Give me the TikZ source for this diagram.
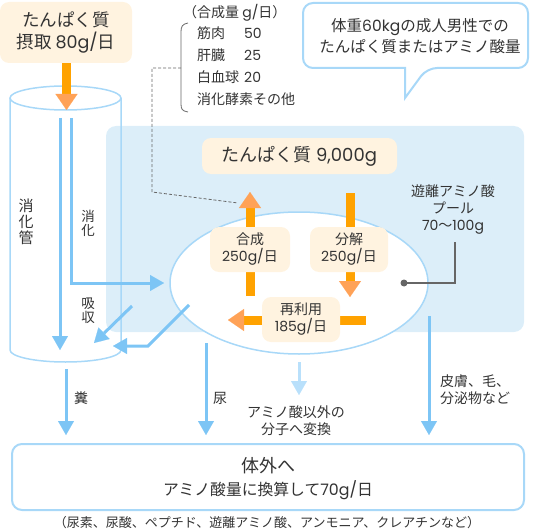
\documentclass[tikz,border=0pt]{standalone}
\usepackage{fontspec}
\setmainfont{Noto Sans CJK JP}
\newfontfamily\latfont{Poppins}
\newcommand{\latn}[1]{{\latfont #1}}
\usetikzlibrary{arrows.meta,shapes.geometric}
\definecolor{cream}{HTML}{FFF3E0}
\definecolor{poolbg}{HTML}{DCEEF9}
\definecolor{bluearr}{HTML}{7DC5F5}
\definecolor{blueline}{HTML}{A8D8F8}
\definecolor{paleblue}{HTML}{B9E0FB}
\definecolor{orshaft}{HTML}{FFA200}
\definecolor{orhead}{HTML}{FFA257}
\definecolor{txt}{HTML}{333333}
\definecolor{grayline}{HTML}{666666}
\begin{document}
\begin{tikzpicture}[x=1pt,y=-1pt,
  every node/.style={text=txt},
  fs13/.style={font=\fontsize{13pt}{17pt}\selectfont},
  fs14/.style={font=\fontsize{14pt}{17pt}\selectfont},
  fs15/.style={font=\fontsize{15.5pt}{20.5pt}\selectfont},
  fs17/.style={font=\fontsize{17.5pt}{22pt}\selectfont},
  creambox/.style={fill=cream, rounded corners=9pt, inner sep=0pt, align=center},
  barrow/.style={draw=bluearr, line width=3pt, -{Triangle[width=16pt,length=14pt,line width=0.1pt]}},
  oarrow/.style={draw=orshaft, line width=9pt, -{Triangle[width=22pt,length=16pt,line width=0.1pt,color=orhead]}},
  vlabel/.style={align=center, inner sep=0pt},
]
\useasboundingbox (0,0) rectangle (535,532);

% pool region
\node[fill=poolbg, rounded corners=10pt, minimum width=418pt, minimum height=206pt, inner sep=0pt] (region) at (315,229) {};

% cylinder (digestive tract)
\draw[blueline, line width=1.5pt] (10,98) -- (10,350) arc[start angle=180, end angle=360, x radius=55.5pt, y radius=12pt] -- (121,98);
\draw[blueline, line width=1.5pt] (65.5,98) ellipse [x radius=55.5pt, y radius=12pt];

% dashed leader and bracket
\coordinate (bracemid) at (181,68);
\coordinate (dashend) at (238,203);
\draw[grayline, dash pattern=on 3pt off 2pt, line width=0.8pt] (bracemid) -- (152,68) -- (152,192) -- (dashend);
\draw[grayline, line width=0.8pt] (188,23) .. controls (182,24) and (181,27) .. (181,32) -- (181,104) .. controls (181,109) and (182,111) .. (188,112);

% amino acid pool ellipse
\node[ellipse, draw=blueline, line width=1.5pt, fill=white, minimum width=258pt, minimum height=142pt, inner sep=0pt] (pool) at (299,283) {};

% pool label connector
\coordinate (dot) at (404,283);
\coordinate (lblfoot) at (455,242);
\fill[grayline] (dot) circle (3.5pt);
\draw[grayline, line width=1.5pt] (dot) -| (lblfoot);
\node[fs14, align=center] (poollbl) at (453,209) {遊離アミノ酸\\プール\\\latn{70}〜\latn{100g}};

% blue arrows in the tract
\coordinate (s1) at (60,118); \coordinate (e1) at (60,350);
\draw[barrow] (s1) -- (e1);
\coordinate (s2) at (71,118); \coordinate (e2) at (164,283);
\draw[barrow] (s2) |- (e2);
\coordinate (s3) at (189,305); \coordinate (m3) at (148,346); \coordinate (e3) at (113,346);
\draw[barrow] (s3) -- (m3) -- (e3);
\coordinate (s4) at (132,306); \coordinate (e4) at (94,343);
\draw[barrow] (s4) -- (e4);

% outflow arrows
\coordinate (s5) at (66,369); \coordinate (e5) at (66,435);
\draw[barrow] (s5) -- (e5);
\coordinate (s6) at (206,343); \coordinate (e6) at (206,435);
\draw[barrow] (s6) -- (e6);
\coordinate (s7) at (299,362); \coordinate (e7) at (299,395);
\draw[barrow, draw=paleblue] (s7) -- (e7);
\coordinate (s8) at (429,316); \coordinate (e8) at (429,435);
\draw[barrow] (s8) -- (e8);

% orange arrows
\coordinate (o1s) at (66.5,63); \coordinate (o1e) at (66.5,110);
\draw[oarrow] (o1s) -- (o1e);
\coordinate (o2s) at (250,296); \coordinate (o2e) at (250,192);
\draw[oarrow] (o2s) -- (o2e);
\coordinate (o3s) at (350,193); \coordinate (o3e) at (350,297);
\draw[oarrow] (o3s) -- (o3e);
\coordinate (o4s) at (366,320); \coordinate (o4e) at (228,320);
\draw[oarrow] (o4s) -- (o4e);

% cream boxes
\node[creambox, fs17, minimum width=132pt, minimum height=61pt] (intake) at (66,32.5) {たんぱく質\\摂取 \latn{80g/}日};
\node[creambox, font=\fontsize{18pt}{22pt}\selectfont, minimum width=195pt, minimum height=36pt] (protein) at (299.5,156) {たんぱく質 \latn{9,000g}};
\node[creambox, fs14, minimum width=80pt, minimum height=45pt] (synth) at (250,249.5) {合成\\\latn{250g/}日};
\node[creambox, fs14, minimum width=78pt, minimum height=45pt] (decomp) at (349,249.5) {分解\\\latn{250g/}日};
\node[creambox, fs14, minimum width=78pt, minimum height=45pt] (reuse) at (301,319.5) {再利用\\\latn{185g/}日};

% speech bubble
\draw[blueline, line width=2pt, fill=white] (405,98) -- (405,68) [rounded corners=10pt] -- (303,68) -- (303,3) -- (528,3) -- (528,68) -- (427,68) [sharp corners] -- cycle;
\node[fs15, align=center] (bubble) at (420,36) {体重\latn{60kg}の成人男性での\\たんぱく質またはアミノ酸量};

% synthesis list
\node[fs14, anchor=west, inner sep=0pt] (lhead) at (183,13) {（合成量 \latn{g/}日）};
\node[fs14, anchor=west, inner sep=0pt] (l1) at (197,33) {筋肉};
\node[fs14, anchor=west, inner sep=0pt] (n1) at (244,33) {\latn{50}};
\node[fs14, anchor=west, inner sep=0pt] (l2) at (197,55) {肝臓};
\node[fs14, anchor=west, inner sep=0pt] (n2) at (244,55) {\latn{25}};
\node[fs14, anchor=west, inner sep=0pt] (l3) at (197,77) {白血球};
\node[fs14, anchor=west, inner sep=0pt] (n3) at (244,77) {\latn{20}};
\node[fs14, anchor=west, inner sep=0pt] (l4) at (197,99) {消化酵素その他};

% vertical labels
\node[vlabel, font=\fontsize{15pt}{16pt}\selectfont] (gut) at (26,222) {消\\化\\管};
\node[vlabel, font=\fontsize{13.5pt}{14pt}\selectfont] (dig) at (88,223) {消\\化};
\node[vlabel, font=\fontsize{13.5pt}{14pt}\selectfont] (abs) at (88,311) {吸\\収};

% outflow labels
\node[fs14] (feces) at (81,398) {糞};
\node[fs14] (urine) at (220,398) {尿};
\node[fs14, align=left, anchor=west, inner sep=0pt] (skin) at (440,389.5) {皮膚、毛、\\分泌物など};
\node[fs14, align=center] (conv) at (296,420.5) {アミノ酸以外の\\分子へ変換};

% output box
\node[draw=blueline, line width=2pt, fill=white, rounded corners=10pt, minimum width=512pt, minimum height=66pt, inner sep=0pt] (out) at (268,477) {};
\node[font=\fontsize{18pt}{22pt}\selectfont] (outt) at (268,466) {体外へ};
\node[font=\fontsize{15.8pt}{20pt}\selectfont] (outs) at (268,490) {アミノ酸量に換算して\latn{70g/}日};
\node[fs13] (note) at (267,523) {（尿素、尿酸、ペプチド、遊離アミノ酸、アンモニア、クレアチンなど）};
\end{tikzpicture}
\end{document}
